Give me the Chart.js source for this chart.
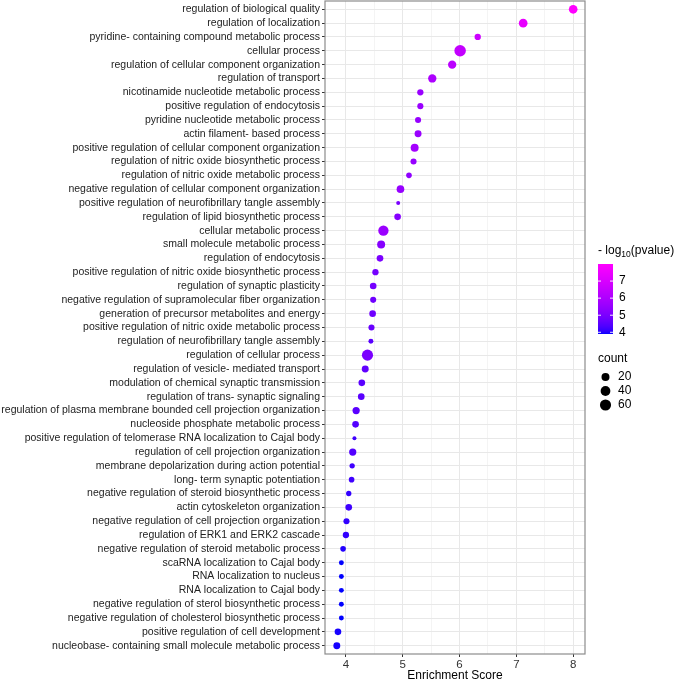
<!DOCTYPE html>
<html>
<head>
<meta charset="utf-8">
<script src="https://cdn.jsdelivr.net/npm/chart.js@4/dist/chart.umd.min.js"></script>
<style>
  html, body { margin: 0; padding: 0; background: #fff; }
</style>
</head>
<body>
<canvas id="chart" width="677" height="681"></canvas>
<script>
// GO terms, top to bottom
const terms = [
  'regulation of biological quality',
  'regulation of localization',
  'pyridine- containing compound metabolic process',
  'cellular process',
  'regulation of cellular component organization',
  'regulation of transport',
  'nicotinamide nucleotide metabolic process',
  'positive regulation of endocytosis',
  'pyridine nucleotide metabolic process',
  'actin filament- based process',
  'positive regulation of cellular component organization',
  'regulation of nitric oxide biosynthetic process',
  'regulation of nitric oxide metabolic process',
  'negative regulation of cellular component organization',
  'positive regulation of neurofibrillary tangle assembly',
  'regulation of lipid biosynthetic process',
  'cellular metabolic process',
  'small molecule metabolic process',
  'regulation of endocytosis',
  'positive regulation of nitric oxide biosynthetic process',
  'regulation of synaptic plasticity',
  'negative regulation of supramolecular fiber organization',
  'generation of precursor metabolites and energy',
  'positive regulation of nitric oxide metabolic process',
  'regulation of neurofibrillary tangle assembly',
  'regulation of cellular process',
  'regulation of vesicle- mediated transport',
  'modulation of chemical synaptic transmission',
  'regulation of trans- synaptic signaling',
  'regulation of plasma membrane bounded cell projection organization',
  'nucleoside phosphate metabolic process',
  'positive regulation of telomerase RNA localization to Cajal body',
  'regulation of cell projection organization',
  'membrane depolarization during action potential',
  'long- term synaptic potentiation',
  'negative regulation of steroid biosynthetic process',
  'actin cytoskeleton organization',
  'negative regulation of cell projection organization',
  'regulation of ERK1 and ERK2 cascade',
  'negative regulation of steroid metabolic process',
  'scaRNA localization to Cajal body',
  'RNA localization to nucleus',
  'RNA localization to Cajal body',
  'negative regulation of sterol biosynthetic process',
  'negative regulation of cholesterol biosynthetic process',
  'positive regulation of cell development',
  'nucleobase- containing small molecule metabolic process'
];

const scores = [
  8.00, 7.12, 6.32, 6.01, 5.87, 5.52, 5.31, 5.31, 5.27, 5.27,
  5.21, 5.19, 5.11, 4.96, 4.92, 4.91, 4.66, 4.62, 4.60, 4.52,
  4.48, 4.48, 4.47, 4.45, 4.44, 4.38, 4.34, 4.28, 4.27, 4.18,
  4.17, 4.15, 4.12, 4.11, 4.10, 4.05, 4.05, 4.01, 4.00, 3.95,
  3.92, 3.92, 3.92, 3.92, 3.92, 3.86, 3.84
];

// -log10(pvalue)
const negLogP = [
  8.0, 7.4, 6.7, 6.5, 6.3, 6.0, 5.6, 5.6, 5.5, 5.6,
  5.8, 5.5, 5.4, 5.5, 5.0, 5.2, 5.6, 5.2, 5.0, 4.9,
  4.9, 4.8, 4.8, 4.7, 4.5, 5.0, 4.6, 4.5, 4.5, 4.5,
  4.4, 4.2, 4.4, 4.2, 4.2, 4.1, 4.2, 4.1, 4.1, 4.0,
  3.9, 3.9, 3.9, 3.9, 3.9, 3.95, 3.95
];

const counts = [
  27, 27, 8, 66, 23, 23, 8, 7, 7, 12,
  20, 7, 5, 17, 2, 10, 47, 20, 10, 8,
  10, 7, 10, 7, 3, 60, 12, 10, 10, 14,
  10, 2, 14, 4, 5, 4, 10, 7, 8, 5,
  3, 3, 3, 3, 3, 10, 12
];

const xTicks = [4, 5, 6, 7, 8];
const colorTicks = [4, 5, 6, 7];
const countTicks = [20, 40, 60];

const FONT = '"Liberation Sans", Arial, sans-serif';

// colour scale: blue -> magenta, interpolated in Lab like ggplot
const vMin = Math.min(...negLogP), vMax = Math.max(...negLogP);
const LOW_LAB = [32.30, 79.19, -107.86];
const HIGH_LAB = [60.32, 98.23, -60.82];
function labToRgb(L, a, b) {
  const fy = (L + 16) / 116, fx = fy + a / 500, fz = fy - b / 200;
  const finv = t => (t * t * t > 0.008856 ? t * t * t : (t - 16 / 116) / 7.787);
  const X = 0.95047 * finv(fx), Y = finv(fy), Z = 1.08883 * finv(fz);
  const lin = [
    3.2406 * X - 1.5372 * Y - 0.4986 * Z,
    -0.9689 * X + 1.8758 * Y + 0.0415 * Z,
    0.0557 * X - 0.2040 * Y + 1.0570 * Z
  ];
  return lin.map(c => {
    c = Math.min(1, Math.max(0, c));
    c = c <= 0.0031308 ? 12.92 * c : 1.055 * Math.pow(c, 1 / 2.4) - 0.055;
    return Math.round(c * 255);
  });
}
function colorFor(v) {
  const t = Math.min(1, Math.max(0, (v - vMin) / (vMax - vMin)));
  const lab = LOW_LAB.map((l, i) => l + (HIGH_LAB[i] - l) * t);
  const [r, g, b] = labToRgb(...lab);
  return `rgb(${r},${g},${b})`;
}

// size scale: area proportional to count
const cMin = Math.min(...counts), cMax = Math.max(...counts);
function radiusFor(c) {
  const s = Math.sqrt(Math.max(0, (c - cMin) / (cMax - cMin)));
  return (4 + 7.5 * s) / 2;
}

const xRange = Math.max(...scores) - Math.min(...scores);
const xMin = Math.min(...scores) - 0.05 * xRange;
const xMax = Math.max(...scores) + 0.05 * xRange;

// majors plus the minor lines half way between
const xGrid = [];
xTicks.forEach((v, i) => {
  xGrid.push(v);
  if (i < xTicks.length - 1) xGrid.push((v + xTicks[i + 1]) / 2);
});

const points = terms.map((t, i) => ({ x: scores[i], y: i }));

// chart.js pads the area for edge labels, ggplot doesn't
const noEdgePadding = s => {
  s.paddingTop = 0;
  s.paddingBottom = 0;
  s.paddingLeft = 0;
  s.paddingRight = 0;
};

const panelAndLegend = {
  id: 'panelAndLegend',
  afterDatasetsDraw(chart) {
    const { ctx, chartArea: a } = chart;
    ctx.save();
    ctx.strokeStyle = '#8c8c8c';
    ctx.lineWidth = 1.2;
    ctx.strokeRect(a.left, a.top, a.right - a.left, a.bottom - a.top);
    ctx.restore();
  },
  afterDraw(chart) {
    const { ctx, chartArea: a } = chart;
    const lx = a.right + 13;
    ctx.save();
    ctx.fillStyle = '#000';
    ctx.textBaseline = 'alphabetic';
    ctx.textAlign = 'left';

    // colour bar title
    let tx = lx;
    const ty = 254;
    ctx.font = '12px ' + FONT;
    ctx.fillText('- log', tx, ty);
    tx += ctx.measureText('- log').width;
    ctx.font = '8.5px ' + FONT;
    ctx.fillText('10', tx, ty + 3);
    tx += ctx.measureText('10').width;
    ctx.font = '12px ' + FONT;
    ctx.fillText('(pvalue)', tx, ty);

    // colour bar
    const barTop = 264, barH = 70, barW = 15;
    for (let i = 0; i < barH; i++) {
      const v = vMax - ((i + 0.5) / barH) * (vMax - vMin);
      ctx.fillStyle = colorFor(v);
      ctx.fillRect(lx, barTop + i, barW, 1);
    }
    ctx.textBaseline = 'middle';
    colorTicks.forEach(v => {
      const y = barTop + ((vMax - v) / (vMax - vMin)) * barH;
      ctx.strokeStyle = 'rgba(255,255,255,0.9)';
      ctx.lineWidth = 1;
      ctx.beginPath();
      ctx.moveTo(lx, y); ctx.lineTo(lx + 3, y);
      ctx.moveTo(lx + barW - 3, y); ctx.lineTo(lx + barW, y);
      ctx.stroke();
      ctx.fillStyle = '#000';
      ctx.font = '12px ' + FONT;
      ctx.fillText(String(v), lx + barW + 6, y);
    });

    // size legend
    ctx.textBaseline = 'alphabetic';
    ctx.font = '12px ' + FONT;
    ctx.fillStyle = '#000';
    ctx.fillText('count', lx, 362);
    ctx.textBaseline = 'middle';
    countTicks.forEach((c, i) => {
      const y = 377 + i * 14;
      ctx.beginPath();
      ctx.arc(lx + 7.5, y, radiusFor(c), 0, Math.PI * 2);
      ctx.fillStyle = '#000';
      ctx.fill();
      ctx.fillText(String(c), lx + 20, y);
    });
    ctx.restore();
  }
};

new Chart(document.getElementById('chart'), {
  type: 'bubble',
  data: {
    datasets: [{
      data: points,
      backgroundColor: ctx => colorFor(negLogP[ctx.dataIndex]),
      borderWidth: 0,
      radius: ctx => radiusFor(counts[ctx.dataIndex]),
      hoverRadius: 0
    }]
  },
  options: {
    responsive: false,
    devicePixelRatio: 1,
    animation: false,
    events: [],
    layout: { autoPadding: false, padding: { top: 1, right: 92, bottom: 0, left: 0 } },
    plugins: {
      legend: { display: false },
      tooltip: { enabled: false }
    },
    scales: {
      x: {
        type: 'linear',
        min: xMin,
        max: xMax,
        afterBuildTicks: s => { s.ticks = xGrid.map(v => ({ value: v })); },
        afterFit: s => { s.height = 27; noEdgePadding(s); },
        ticks: {
          autoSkip: false,
          maxRotation: 0,
          padding: 1,
          color: '#333',
          font: { family: FONT, size: 11.5 },
          callback: v => (Number.isInteger(v) ? String(v) : '')
        },
        grid: {
          color: ctx => (Number.isInteger(ctx.tick.value) ? '#e8e8e8' : '#f4f4f4'),
          lineWidth: 1,
          tickLength: 3,
          tickColor: ctx => (Number.isInteger(ctx.tick.value) ? '#333' : 'rgba(0,0,0,0)')
        },
        border: { display: false },
        title: {
          display: true,
          text: 'Enrichment Score',
          color: '#000',
          font: { family: FONT, size: 12, lineHeight: 0.85 },
          padding: { top: 0, bottom: 0 }
        }
      },
      y: {
        type: 'linear',
        reverse: true,
        min: -0.6,
        max: terms.length - 0.4,
        afterBuildTicks: s => { s.ticks = terms.map((t, i) => ({ value: i })); },
        afterFit: s => { s.width = 325; noEdgePadding(s); },
        ticks: {
          autoSkip: false,
          padding: 2,
          color: '#222',
          font: { family: FONT, size: 10.5 },
          callback: v => terms[v]
        },
        grid: {
          color: '#e8e8e8',
          lineWidth: 1,
          tickLength: 3,
          tickColor: '#333'
        },
        border: { display: false }
      }
    }
  },
  plugins: [panelAndLegend]
});
</script>
</body>
</html>
